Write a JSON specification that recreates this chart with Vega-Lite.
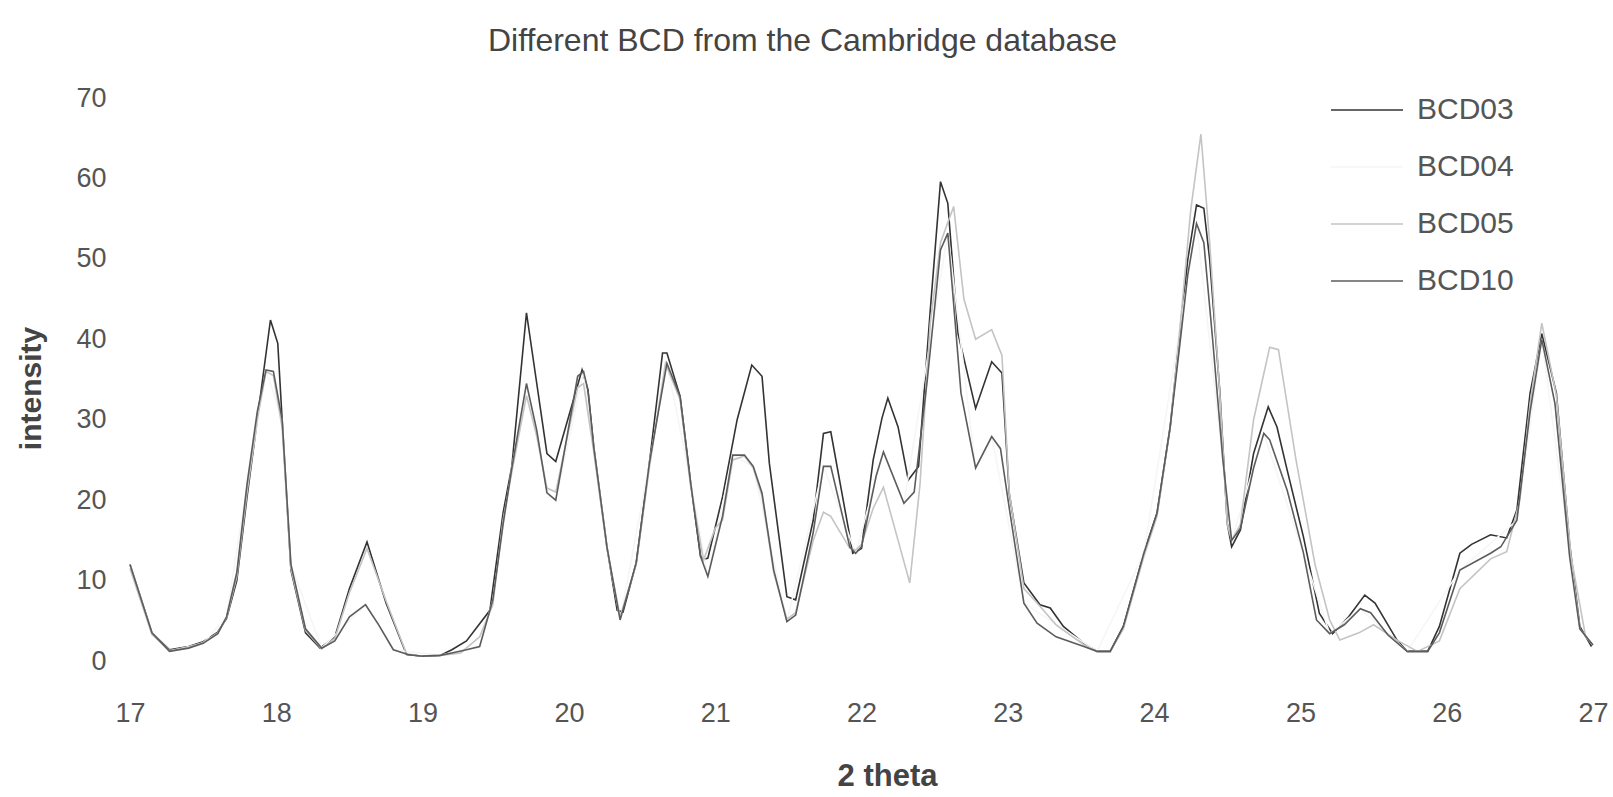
{
  "$schema": "https://vega.github.io/schema/vega-lite/v6.json",
  "width": 1463,
  "height": 563,
  "autosize": {"type": "none"},
  "padding": {"left": 130, "top": 98, "right": 20, "bottom": 136},
  "background": "white",
  "config": {
    "view": {"stroke": null},
    "font": "Liberation Sans"
  },
  "title": {
    "text": "Different BCD from the Cambridge database",
    "fontSize": 32,
    "fontWeight": "normal",
    "color": "#444444",
    "font": "Liberation Sans",
    "frame": "group",
    "anchor": "middle",
    "dx": -59,
    "offset": 15
  },
  "data": {
    "values": [
      {"x":17.0,"y":12,"s":"BCD03"},{"x":17.15,"y":3.5,"s":"BCD03"},{"x":17.27,"y":1.4,"s":"BCD03"},{"x":17.4,"y":1.8,"s":"BCD03"},{"x":17.5,"y":2.4,"s":"BCD03"},{"x":17.6,"y":3.6,"s":"BCD03"},{"x":17.66,"y":5.3,"s":"BCD03"},{"x":17.73,"y":10,"s":"BCD03"},{"x":17.8,"y":20.4,"s":"BCD03"},{"x":17.87,"y":30,"s":"BCD03"},{"x":17.96,"y":42.4,"s":"BCD03"},{"x":18.01,"y":39.5,"s":"BCD03"},{"x":18.04,"y":30,"s":"BCD03"},{"x":18.1,"y":11.3,"s":"BCD03"},{"x":18.2,"y":3.5,"s":"BCD03"},{"x":18.3,"y":1.6,"s":"BCD03"},{"x":18.4,"y":3,"s":"BCD03"},{"x":18.5,"y":9,"s":"BCD03"},{"x":18.62,"y":14.8,"s":"BCD03"},{"x":18.75,"y":7.2,"s":"BCD03"},{"x":18.89,"y":0.8,"s":"BCD03"},{"x":19.0,"y":0.6,"s":"BCD03"},{"x":19.12,"y":0.7,"s":"BCD03"},{"x":19.2,"y":1.4,"s":"BCD03"},{"x":19.3,"y":2.5,"s":"BCD03"},{"x":19.46,"y":6.3,"s":"BCD03"},{"x":19.55,"y":18.4,"s":"BCD03"},{"x":19.61,"y":24.2,"s":"BCD03"},{"x":19.71,"y":43.3,"s":"BCD03"},{"x":19.85,"y":25.8,"s":"BCD03"},{"x":19.91,"y":24.8,"s":"BCD03"},{"x":20.09,"y":36.2,"s":"BCD03"},{"x":20.13,"y":33.7,"s":"BCD03"},{"x":20.17,"y":26.6,"s":"BCD03"},{"x":20.26,"y":14.2,"s":"BCD03"},{"x":20.33,"y":6.3,"s":"BCD03"},{"x":20.37,"y":6.1,"s":"BCD03"},{"x":20.46,"y":12.2,"s":"BCD03"},{"x":20.55,"y":24.6,"s":"BCD03"},{"x":20.64,"y":38.3,"s":"BCD03"},{"x":20.67,"y":38.3,"s":"BCD03"},{"x":20.76,"y":32.9,"s":"BCD03"},{"x":20.83,"y":22.5,"s":"BCD03"},{"x":20.9,"y":13,"s":"BCD03"},{"x":20.92,"y":12.6,"s":"BCD03"},{"x":20.95,"y":12.8,"s":"BCD03"},{"x":21.05,"y":20.4,"s":"BCD03"},{"x":21.15,"y":30,"s":"BCD03"},{"x":21.25,"y":36.8,"s":"BCD03"},{"x":21.32,"y":35.4,"s":"BCD03"},{"x":21.37,"y":24.6,"s":"BCD03"},{"x":21.49,"y":8,"s":"BCD03"},{"x":21.55,"y":7.6,"s":"BCD03"},{"x":21.67,"y":17.5,"s":"BCD03"},{"x":21.74,"y":28.3,"s":"BCD03"},{"x":21.79,"y":28.5,"s":"BCD03"},{"x":21.92,"y":15.5,"s":"BCD03"},{"x":21.94,"y":13.4,"s":"BCD03"},{"x":22.0,"y":14,"s":"BCD03"},{"x":22.08,"y":25,"s":"BCD03"},{"x":22.14,"y":30.2,"s":"BCD03"},{"x":22.18,"y":32.7,"s":"BCD03"},{"x":22.25,"y":29.1,"s":"BCD03"},{"x":22.32,"y":22.5,"s":"BCD03"},{"x":22.39,"y":24.2,"s":"BCD03"},{"x":22.47,"y":43.6,"s":"BCD03"},{"x":22.54,"y":59.6,"s":"BCD03"},{"x":22.59,"y":56.9,"s":"BCD03"},{"x":22.66,"y":40.7,"s":"BCD03"},{"x":22.78,"y":31.4,"s":"BCD03"},{"x":22.89,"y":37.2,"s":"BCD03"},{"x":22.96,"y":35.8,"s":"BCD03"},{"x":23.01,"y":20.8,"s":"BCD03"},{"x":23.11,"y":9.7,"s":"BCD03"},{"x":23.22,"y":7.0,"s":"BCD03"},{"x":23.29,"y":6.6,"s":"BCD03"},{"x":23.38,"y":4.3,"s":"BCD03"},{"x":23.52,"y":2.2,"s":"BCD03"},{"x":23.61,"y":1.2,"s":"BCD03"},{"x":23.7,"y":1.2,"s":"BCD03"},{"x":23.79,"y":4.3,"s":"BCD03"},{"x":23.93,"y":13.4,"s":"BCD03"},{"x":24.02,"y":18.4,"s":"BCD03"},{"x":24.11,"y":29.1,"s":"BCD03"},{"x":24.18,"y":41.6,"s":"BCD03"},{"x":24.23,"y":49.9,"s":"BCD03"},{"x":24.29,"y":56.7,"s":"BCD03"},{"x":24.34,"y":56.3,"s":"BCD03"},{"x":24.38,"y":49.9,"s":"BCD03"},{"x":24.45,"y":33.3,"s":"BCD03"},{"x":24.5,"y":17.1,"s":"BCD03"},{"x":24.53,"y":14.2,"s":"BCD03"},{"x":24.59,"y":16.3,"s":"BCD03"},{"x":24.68,"y":25.8,"s":"BCD03"},{"x":24.78,"y":31.6,"s":"BCD03"},{"x":24.84,"y":29.1,"s":"BCD03"},{"x":24.91,"y":23.7,"s":"BCD03"},{"x":25.02,"y":15.5,"s":"BCD03"},{"x":25.13,"y":5.9,"s":"BCD03"},{"x":25.22,"y":3.4,"s":"BCD03"},{"x":25.33,"y":5.5,"s":"BCD03"},{"x":25.44,"y":8.2,"s":"BCD03"},{"x":25.51,"y":7.2,"s":"BCD03"},{"x":25.66,"y":2.6,"s":"BCD03"},{"x":25.73,"y":1.2,"s":"BCD03"},{"x":25.87,"y":1.2,"s":"BCD03"},{"x":25.95,"y":4.3,"s":"BCD03"},{"x":26.09,"y":13.4,"s":"BCD03"},{"x":26.17,"y":14.5,"s":"BCD03"},{"x":26.3,"y":15.7,"s":"BCD03"},{"x":26.41,"y":15.3,"s":"BCD03"},{"x":26.48,"y":18.8,"s":"BCD03"},{"x":26.57,"y":33.3,"s":"BCD03"},{"x":26.65,"y":40.7,"s":"BCD03"},{"x":26.75,"y":33.3,"s":"BCD03"},{"x":26.84,"y":14.6,"s":"BCD03"},{"x":26.91,"y":4.3,"s":"BCD03"},{"x":26.99,"y":1.8,"s":"BCD03"},

      {"x":17.0,"y":12,"s":"BCD04"},{"x":17.15,"y":3.5,"s":"BCD04"},{"x":17.27,"y":1.2,"s":"BCD04"},{"x":17.5,"y":2.2,"s":"BCD04"},{"x":17.66,"y":5.5,"s":"BCD04"},{"x":17.8,"y":22,"s":"BCD04"},{"x":17.93,"y":36.2,"s":"BCD04"},{"x":18.04,"y":30,"s":"BCD04"},{"x":18.1,"y":12,"s":"BCD04"},{"x":18.31,"y":1.6,"s":"BCD04"},{"x":18.61,"y":7,"s":"BCD04"},{"x":18.8,"y":1.4,"s":"BCD04"},{"x":19.12,"y":0.7,"s":"BCD04"},{"x":19.39,"y":1.8,"s":"BCD04"},{"x":19.48,"y":7.6,"s":"BCD04"},{"x":19.61,"y":24,"s":"BCD04"},{"x":19.71,"y":34.5,"s":"BCD04"},{"x":19.85,"y":20.9,"s":"BCD04"},{"x":19.91,"y":20,"s":"BCD04"},{"x":20.1,"y":36,"s":"BCD04"},{"x":20.26,"y":14.2,"s":"BCD04"},{"x":20.35,"y":5.1,"s":"BCD04"},{"x":20.55,"y":24.6,"s":"BCD04"},{"x":20.67,"y":37,"s":"BCD04"},{"x":20.83,"y":22.5,"s":"BCD04"},{"x":20.95,"y":10.5,"s":"BCD04"},{"x":21.12,"y":25.6,"s":"BCD04"},{"x":21.26,"y":24.2,"s":"BCD04"},{"x":21.49,"y":4.9,"s":"BCD04"},{"x":21.74,"y":24.2,"s":"BCD04"},{"x":21.96,"y":13.4,"s":"BCD04"},{"x":22.15,"y":26,"s":"BCD04"},{"x":22.29,"y":19.6,"s":"BCD04"},{"x":22.59,"y":53.2,"s":"BCD04"},{"x":22.78,"y":24,"s":"BCD04"},{"x":22.89,"y":27.9,"s":"BCD04"},{"x":23.11,"y":7.2,"s":"BCD04"},{"x":23.61,"y":1.2,"s":"BCD04"},{"x":23.93,"y":13.4,"s":"BCD04"},{"x":24.29,"y":54.4,"s":"BCD04"},{"x":24.53,"y":15,"s":"BCD04"},{"x":24.75,"y":28.3,"s":"BCD04"},{"x":25.2,"y":3.4,"s":"BCD04"},{"x":25.41,"y":6.5,"s":"BCD04"},{"x":25.73,"y":1.2,"s":"BCD04"},{"x":26.09,"y":11.3,"s":"BCD04"},{"x":26.48,"y":17.5,"s":"BCD04"},{"x":26.65,"y":40,"s":"BCD04"},{"x":26.91,"y":4,"s":"BCD04"},{"x":27.0,"y":2,"s":"BCD04"},

      {"x":17.0,"y":11.5,"s":"BCD05"},{"x":17.15,"y":3.3,"s":"BCD05"},{"x":17.27,"y":1.3,"s":"BCD05"},{"x":17.4,"y":1.7,"s":"BCD05"},{"x":17.5,"y":2.3,"s":"BCD05"},{"x":17.6,"y":3.5,"s":"BCD05"},{"x":17.66,"y":5.4,"s":"BCD05"},{"x":17.73,"y":10.5,"s":"BCD05"},{"x":17.8,"y":21,"s":"BCD05"},{"x":17.87,"y":30,"s":"BCD05"},{"x":17.93,"y":36,"s":"BCD05"},{"x":17.98,"y":35.5,"s":"BCD05"},{"x":18.04,"y":29,"s":"BCD05"},{"x":18.1,"y":11.5,"s":"BCD05"},{"x":18.2,"y":3.8,"s":"BCD05"},{"x":18.31,"y":1.5,"s":"BCD05"},{"x":18.4,"y":2.8,"s":"BCD05"},{"x":18.5,"y":8.5,"s":"BCD05"},{"x":18.62,"y":14,"s":"BCD05"},{"x":18.75,"y":7.5,"s":"BCD05"},{"x":18.89,"y":0.9,"s":"BCD05"},{"x":19.0,"y":0.6,"s":"BCD05"},{"x":19.12,"y":0.7,"s":"BCD05"},{"x":19.26,"y":1.0,"s":"BCD05"},{"x":19.39,"y":3.0,"s":"BCD05"},{"x":19.48,"y":7,"s":"BCD05"},{"x":19.55,"y":17.5,"s":"BCD05"},{"x":19.61,"y":23.5,"s":"BCD05"},{"x":19.71,"y":33,"s":"BCD05"},{"x":19.78,"y":28,"s":"BCD05"},{"x":19.85,"y":21.5,"s":"BCD05"},{"x":19.91,"y":21,"s":"BCD05"},{"x":20.06,"y":34,"s":"BCD05"},{"x":20.1,"y":34.5,"s":"BCD05"},{"x":20.17,"y":26,"s":"BCD05"},{"x":20.26,"y":14,"s":"BCD05"},{"x":20.35,"y":5.5,"s":"BCD05"},{"x":20.46,"y":12,"s":"BCD05"},{"x":20.55,"y":24,"s":"BCD05"},{"x":20.66,"y":37,"s":"BCD05"},{"x":20.76,"y":32.5,"s":"BCD05"},{"x":20.83,"y":22,"s":"BCD05"},{"x":20.92,"y":12.5,"s":"BCD05"},{"x":21.0,"y":16.5,"s":"BCD05"},{"x":21.05,"y":17.5,"s":"BCD05"},{"x":21.12,"y":25,"s":"BCD05"},{"x":21.2,"y":25.5,"s":"BCD05"},{"x":21.26,"y":24,"s":"BCD05"},{"x":21.32,"y":20.5,"s":"BCD05"},{"x":21.4,"y":11,"s":"BCD05"},{"x":21.49,"y":5.2,"s":"BCD05"},{"x":21.55,"y":6,"s":"BCD05"},{"x":21.67,"y":15,"s":"BCD05"},{"x":21.74,"y":18.5,"s":"BCD05"},{"x":21.79,"y":18,"s":"BCD05"},{"x":21.92,"y":14,"s":"BCD05"},{"x":21.96,"y":13.8,"s":"BCD05"},{"x":22.0,"y":14.5,"s":"BCD05"},{"x":22.08,"y":19,"s":"BCD05"},{"x":22.15,"y":21.6,"s":"BCD05"},{"x":22.25,"y":15,"s":"BCD05"},{"x":22.33,"y":9.7,"s":"BCD05"},{"x":22.4,"y":22,"s":"BCD05"},{"x":22.47,"y":42,"s":"BCD05"},{"x":22.54,"y":52,"s":"BCD05"},{"x":22.63,"y":56.5,"s":"BCD05"},{"x":22.7,"y":45,"s":"BCD05"},{"x":22.78,"y":40,"s":"BCD05"},{"x":22.89,"y":41.2,"s":"BCD05"},{"x":22.96,"y":38,"s":"BCD05"},{"x":23.01,"y":21,"s":"BCD05"},{"x":23.11,"y":9,"s":"BCD05"},{"x":23.22,"y":6.8,"s":"BCD05"},{"x":23.33,"y":4.5,"s":"BCD05"},{"x":23.52,"y":2.0,"s":"BCD05"},{"x":23.61,"y":1.2,"s":"BCD05"},{"x":23.7,"y":1.2,"s":"BCD05"},{"x":23.79,"y":4.0,"s":"BCD05"},{"x":23.93,"y":13,"s":"BCD05"},{"x":24.02,"y":18,"s":"BCD05"},{"x":24.11,"y":29,"s":"BCD05"},{"x":24.18,"y":42,"s":"BCD05"},{"x":24.25,"y":56,"s":"BCD05"},{"x":24.32,"y":65.5,"s":"BCD05"},{"x":24.38,"y":52,"s":"BCD05"},{"x":24.45,"y":33,"s":"BCD05"},{"x":24.5,"y":17,"s":"BCD05"},{"x":24.53,"y":15,"s":"BCD05"},{"x":24.59,"y":17,"s":"BCD05"},{"x":24.68,"y":30,"s":"BCD05"},{"x":24.79,"y":39,"s":"BCD05"},{"x":24.85,"y":38.7,"s":"BCD05"},{"x":24.97,"y":25,"s":"BCD05"},{"x":25.1,"y":12,"s":"BCD05"},{"x":25.2,"y":5.1,"s":"BCD05"},{"x":25.27,"y":2.6,"s":"BCD05"},{"x":25.4,"y":3.5,"s":"BCD05"},{"x":25.5,"y":4.5,"s":"BCD05"},{"x":25.66,"y":2.6,"s":"BCD05"},{"x":25.8,"y":1.2,"s":"BCD05"},{"x":25.95,"y":2.5,"s":"BCD05"},{"x":26.09,"y":9,"s":"BCD05"},{"x":26.3,"y":12.7,"s":"BCD05"},{"x":26.41,"y":13.6,"s":"BCD05"},{"x":26.5,"y":20,"s":"BCD05"},{"x":26.57,"y":32,"s":"BCD05"},{"x":26.65,"y":42,"s":"BCD05"},{"x":26.75,"y":33,"s":"BCD05"},{"x":26.85,"y":13,"s":"BCD05"},{"x":26.95,"y":3,"s":"BCD05"},{"x":27.0,"y":2,"s":"BCD05"},

      {"x":17.0,"y":12,"s":"BCD10"},{"x":17.15,"y":3.5,"s":"BCD10"},{"x":17.27,"y":1.2,"s":"BCD10"},{"x":17.4,"y":1.6,"s":"BCD10"},{"x":17.5,"y":2.2,"s":"BCD10"},{"x":17.6,"y":3.4,"s":"BCD10"},{"x":17.66,"y":5.5,"s":"BCD10"},{"x":17.73,"y":11,"s":"BCD10"},{"x":17.8,"y":22,"s":"BCD10"},{"x":17.87,"y":31,"s":"BCD10"},{"x":17.93,"y":36.2,"s":"BCD10"},{"x":17.98,"y":36,"s":"BCD10"},{"x":18.04,"y":30,"s":"BCD10"},{"x":18.1,"y":12,"s":"BCD10"},{"x":18.2,"y":4,"s":"BCD10"},{"x":18.31,"y":1.6,"s":"BCD10"},{"x":18.4,"y":2.5,"s":"BCD10"},{"x":18.5,"y":5.5,"s":"BCD10"},{"x":18.61,"y":7.0,"s":"BCD10"},{"x":18.7,"y":4.5,"s":"BCD10"},{"x":18.8,"y":1.4,"s":"BCD10"},{"x":18.9,"y":0.8,"s":"BCD10"},{"x":19.0,"y":0.6,"s":"BCD10"},{"x":19.12,"y":0.7,"s":"BCD10"},{"x":19.2,"y":1.0,"s":"BCD10"},{"x":19.3,"y":1.4,"s":"BCD10"},{"x":19.39,"y":1.8,"s":"BCD10"},{"x":19.48,"y":7.6,"s":"BCD10"},{"x":19.55,"y":17,"s":"BCD10"},{"x":19.61,"y":24,"s":"BCD10"},{"x":19.71,"y":34.5,"s":"BCD10"},{"x":19.78,"y":28.7,"s":"BCD10"},{"x":19.85,"y":20.9,"s":"BCD10"},{"x":19.91,"y":20,"s":"BCD10"},{"x":20.06,"y":35.4,"s":"BCD10"},{"x":20.1,"y":36,"s":"BCD10"},{"x":20.13,"y":33.7,"s":"BCD10"},{"x":20.17,"y":26.6,"s":"BCD10"},{"x":20.26,"y":14.2,"s":"BCD10"},{"x":20.35,"y":5.1,"s":"BCD10"},{"x":20.46,"y":12.2,"s":"BCD10"},{"x":20.55,"y":24.6,"s":"BCD10"},{"x":20.67,"y":37,"s":"BCD10"},{"x":20.76,"y":32.9,"s":"BCD10"},{"x":20.83,"y":22.5,"s":"BCD10"},{"x":20.9,"y":13,"s":"BCD10"},{"x":20.95,"y":10.5,"s":"BCD10"},{"x":21.05,"y":18,"s":"BCD10"},{"x":21.12,"y":25.6,"s":"BCD10"},{"x":21.2,"y":25.6,"s":"BCD10"},{"x":21.26,"y":24.2,"s":"BCD10"},{"x":21.32,"y":20.9,"s":"BCD10"},{"x":21.4,"y":11.3,"s":"BCD10"},{"x":21.49,"y":4.9,"s":"BCD10"},{"x":21.55,"y":5.7,"s":"BCD10"},{"x":21.67,"y":16,"s":"BCD10"},{"x":21.74,"y":24.2,"s":"BCD10"},{"x":21.79,"y":24.2,"s":"BCD10"},{"x":21.92,"y":14.2,"s":"BCD10"},{"x":21.96,"y":13.4,"s":"BCD10"},{"x":22.0,"y":14.2,"s":"BCD10"},{"x":22.1,"y":23,"s":"BCD10"},{"x":22.15,"y":26.0,"s":"BCD10"},{"x":22.29,"y":19.6,"s":"BCD10"},{"x":22.36,"y":21,"s":"BCD10"},{"x":22.45,"y":35,"s":"BCD10"},{"x":22.54,"y":51.1,"s":"BCD10"},{"x":22.59,"y":53.2,"s":"BCD10"},{"x":22.68,"y":33.3,"s":"BCD10"},{"x":22.78,"y":24.0,"s":"BCD10"},{"x":22.89,"y":27.9,"s":"BCD10"},{"x":22.95,"y":26.4,"s":"BCD10"},{"x":23.01,"y":19,"s":"BCD10"},{"x":23.11,"y":7.2,"s":"BCD10"},{"x":23.2,"y":4.7,"s":"BCD10"},{"x":23.33,"y":3.0,"s":"BCD10"},{"x":23.52,"y":1.8,"s":"BCD10"},{"x":23.61,"y":1.2,"s":"BCD10"},{"x":23.7,"y":1.2,"s":"BCD10"},{"x":23.79,"y":4.3,"s":"BCD10"},{"x":23.93,"y":13.4,"s":"BCD10"},{"x":24.02,"y":18.4,"s":"BCD10"},{"x":24.11,"y":29.1,"s":"BCD10"},{"x":24.18,"y":40,"s":"BCD10"},{"x":24.23,"y":48,"s":"BCD10"},{"x":24.29,"y":54.4,"s":"BCD10"},{"x":24.34,"y":52,"s":"BCD10"},{"x":24.4,"y":40,"s":"BCD10"},{"x":24.47,"y":25,"s":"BCD10"},{"x":24.53,"y":15,"s":"BCD10"},{"x":24.59,"y":16.5,"s":"BCD10"},{"x":24.68,"y":24,"s":"BCD10"},{"x":24.75,"y":28.3,"s":"BCD10"},{"x":24.79,"y":27.5,"s":"BCD10"},{"x":24.91,"y":21.2,"s":"BCD10"},{"x":25.02,"y":13.5,"s":"BCD10"},{"x":25.11,"y":5.1,"s":"BCD10"},{"x":25.2,"y":3.4,"s":"BCD10"},{"x":25.3,"y":4.5,"s":"BCD10"},{"x":25.41,"y":6.5,"s":"BCD10"},{"x":25.48,"y":6.0,"s":"BCD10"},{"x":25.6,"y":3.2,"s":"BCD10"},{"x":25.73,"y":1.2,"s":"BCD10"},{"x":25.87,"y":1.2,"s":"BCD10"},{"x":25.95,"y":3.5,"s":"BCD10"},{"x":26.09,"y":11.3,"s":"BCD10"},{"x":26.3,"y":13.4,"s":"BCD10"},{"x":26.37,"y":14.2,"s":"BCD10"},{"x":26.48,"y":17.5,"s":"BCD10"},{"x":26.57,"y":31,"s":"BCD10"},{"x":26.65,"y":40,"s":"BCD10"},{"x":26.74,"y":32,"s":"BCD10"},{"x":26.84,"y":13,"s":"BCD10"},{"x":26.91,"y":4,"s":"BCD10"},{"x":27.0,"y":2,"s":"BCD10"}
    ]
  },
  "mark": {"type": "line", "strokeWidth": 1.6, "clip": false},
  "encoding": {
    "x": {
      "field": "x",
      "type": "quantitative",
      "scale": {"domain": [17, 27], "nice": false, "zero": false},
      "axis": {
        "title": "2 theta",
        "values": [17,18,19,20,21,22,23,24,25,26,27],
        "domain": false,
        "ticks": false,
        "grid": false,
        "labelFontSize": 27,
        "labelColor": "#555555",
        "labelFont": "Liberation Sans",
        "labelPadding": 39,
        "labelFlush": false,
        "titleFontSize": 31,
        "titleFontWeight": "bold",
        "titleColor": "#444444",
        "titleFont": "Liberation Sans",
        "titleX": 757,
        "titleY": 115,
        "titleBaseline": "middle",
        "titleAlign": "center"
      }
    },
    "y": {
      "field": "y",
      "type": "quantitative",
      "scale": {"domain": [0, 70], "nice": false},
      "axis": {
        "title": "intensity",
        "values": [0,10,20,30,40,50,60,70],
        "domain": false,
        "ticks": false,
        "grid": false,
        "labelFontSize": 27,
        "labelColor": "#555555",
        "labelFont": "Liberation Sans",
        "labelPadding": 24,
        "titleFontSize": 30,
        "titleFontWeight": "bold",
        "titleColor": "#444444",
        "titleFont": "Liberation Sans",
        "titleAngle": -90,
        "titleX": -99,
        "titleY": 290,
        "titleBaseline": "middle",
        "titleAlign": "center"
      }
    },
    "color": {
      "field": "s",
      "type": "nominal",
      "scale": {
        "domain": ["BCD03", "BCD04", "BCD05", "BCD10"],
        "range": ["#333333", "#f6f6f6", "#c4c4c4", "#5c5c5c"]
      },
      "legend": {
        "title": null,
        "orient": "none",
        "legendX": 1200,
        "legendY": -25,
        "symbolType": "stroke",
        "symbolSize": 5184,
        "symbolStrokeWidth": 1.6,
        "labelFontSize": 30,
        "labelColor": "#555555",
        "labelFont": "Liberation Sans",
        "labelOffset": 13,
        "rowPadding": 5
      }
    }
  }
}
